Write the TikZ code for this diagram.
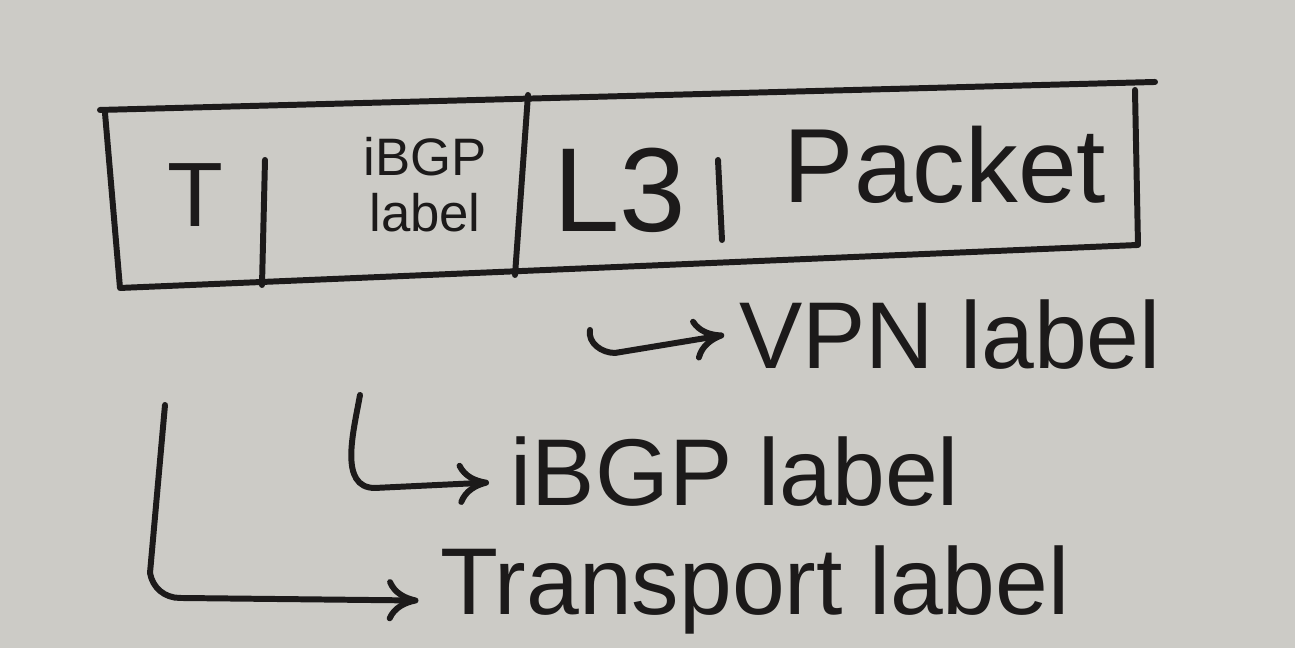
\documentclass[tikz,border=0pt]{standalone}
\usepackage{fontspec}
\setmainfont{Liberation Sans}
\usetikzlibrary{arrows.meta}
\definecolor{paper}{RGB}{204,203,198}
\definecolor{ink}{RGB}{28,26,26}
\tikzset{
	pen/.style={draw=ink, line width=1.7pt, line cap=round, line join=round},
	hook/.style={pen, -{To[length=9pt,width=12pt,line width=1.7pt]}},
	field/.style={text=ink, inner sep=0pt},
	note/.style={text=ink, inner sep=0pt, font=\fontsize{27}{30}\selectfont}
}

\begin{document}
\begin{tikzpicture}
	\fill[paper] (0,0) rectangle (12.95,6.48);
	\useasboundingbox (0,0) rectangle (12.95,6.48);
	% the frame
	\draw[pen] (1.0,5.38) -- (11.55,5.66);
	\draw[pen] (1.05,5.35) -- (1.2,3.6) -- (11.38,4.03) -- (11.35,5.58);
	\draw[pen] (2.65,4.88) -- (2.62,3.63);
	\draw[pen] (5.28,5.53) -- (5.15,3.73);
	\draw[pen] (7.18,4.88) -- (7.22,4.08);
	% fields
	\node[field, font=\fontsize{26}{30}\selectfont] (tfield) at (1.95,4.53) {T};
	\node[field, font=\fontsize{15}{16}\selectfont, align=center] (ibgpfield) at (4.25,4.63) {iBGP\\label};
	\node[field, font=\fontsize{34}{38}\selectfont] (lfield) at (6.2,4.58) {L3};
	\node[field, font=\fontsize{30}{34}\selectfont] (pfield) at (9.45,4.83) {Packet};
	% what the fields are
	\node[note] (vpn) at (9.5,3.13) {VPN label};
	\node[note] (ibgp) at (7.35,1.76) {iBGP label};
	\node[note] (transport) at (7.55,0.58) {Transport label};
	\coordinate (vpnstart) at (5.9,3.18);
	\coordinate (ibgpstart) at (3.6,2.53);
	\coordinate (tstart) at (1.65,2.43);
	\draw[hook] (vpnstart) to[out=-100,in=180] (6.15,2.95) -- ([xshift=-4pt]vpn.west);
	\draw[hook] (ibgpstart) to[out=-100,in=180] (3.75,1.6) -- ([xshift=-6pt,yshift=-3pt]ibgp.west);
	\draw[hook] (tstart) -- (1.5,0.75) to[out=-80,in=180] (1.8,0.5) -- ([xshift=-6pt,yshift=-3pt]transport.west);
\end{tikzpicture}
\end{document}
